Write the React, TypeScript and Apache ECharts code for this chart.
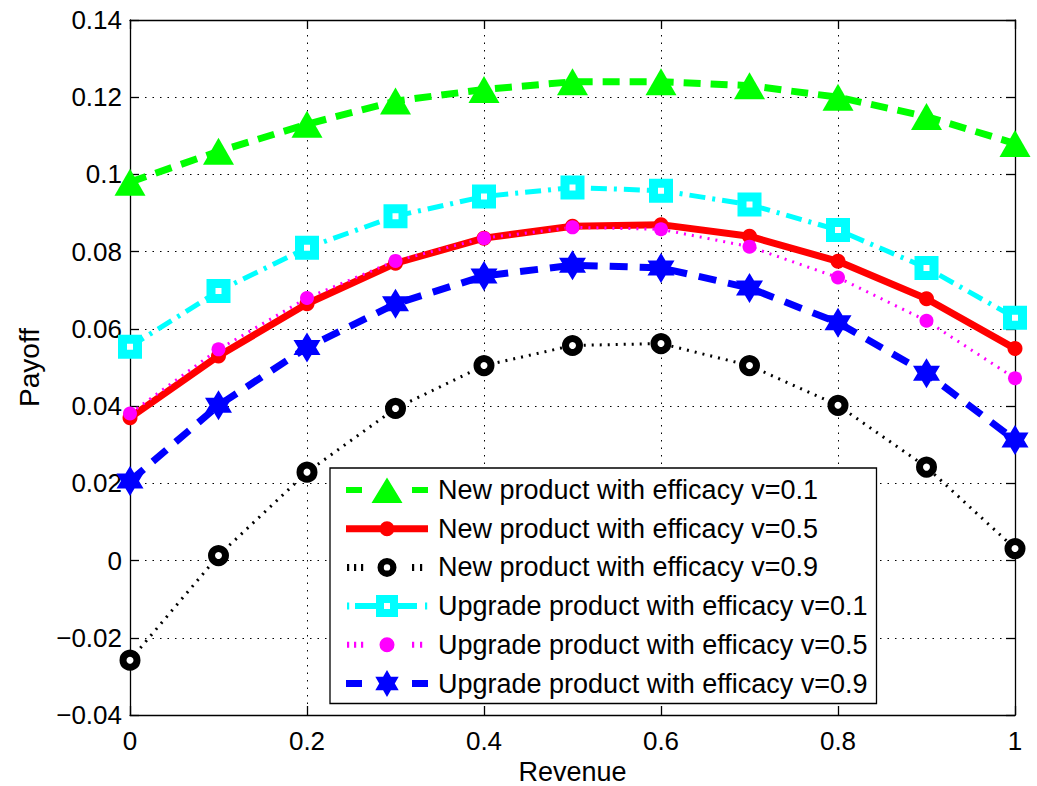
import React, { useEffect, useRef } from "react";
import * as echarts from "echarts";

const xValues = [0, 0.1, 0.2, 0.3, 0.4, 0.5, 0.6, 0.7, 0.8, 0.9, 1];
const newV01 = [0.098, 0.106, 0.113, 0.119, 0.122, 0.124, 0.124, 0.123, 0.120, 0.115, 0.108];
const newV05 = [0.037, 0.053, 0.0665, 0.077, 0.0835, 0.0866, 0.0870, 0.0840, 0.0775, 0.0678, 0.0549];
const newV09 = [-0.0258, 0.0013, 0.0229, 0.0394, 0.0505, 0.0557, 0.0562, 0.0505, 0.0402, 0.0242, 0.0031];
const upV01 = [0.0554, 0.0698, 0.081, 0.0892, 0.0943, 0.0966, 0.0958, 0.0922, 0.0856, 0.0758, 0.0629];
const upV05 = [0.0381, 0.0547, 0.068, 0.0776, 0.0835, 0.0863, 0.0858, 0.0813, 0.0733, 0.0621, 0.0472];
const upV09 = [0.0206, 0.0402, 0.0552, 0.0665, 0.0737, 0.0765, 0.0758, 0.0706, 0.0616, 0.0485, 0.0312];

const seriesNames = [
  "New product with efficacy v=0.1",
  "New product with efficacy v=0.5",
  "New product with efficacy v=0.9",
  "Upgrade product with efficacy v=0.1",
  "Upgrade product with efficacy v=0.5",
  "Upgrade product with efficacy v=0.9",
];

const FONT = "'Liberation Sans', Arial, Helvetica, sans-serif";
const HEX =
  "path://M0,-10L2.887,-5L8.66,-5L5.774,0L8.66,5L2.887,5L0,10L-2.887,5L-8.66,5L-5.774,0L-8.66,-5L-2.887,-5Z";

// legend icon helpers (82 x 28 box)
const IW = 82;
const IH = 28;
const anchors = `M0,0L0.01,0L0,0.01Z M${IW},${IH}L${IW - 0.01},${IH}L${IW},${IH - 0.01}Z `;
const rect = (x1: number, y1: number, x2: number, y2: number) =>
  `M${x1},${y1}L${x2},${y1}L${x2},${y2}L${x1},${y2}Z `;
const rectCCW = (x1: number, y1: number, x2: number, y2: number) =>
  `M${x1},${y1}L${x1},${y2}L${x2},${y2}L${x2},${y1}Z `;
const circ = (cx: number, cy: number, r: number, cw: boolean) => {
  const s = cw ? 1 : 0;
  return `M${cx - r},${cy}A${r},${r} 0 1,${s} ${cx + r},${cy}A${r},${r} 0 1,${s} ${cx - r},${cy}Z `;
};
const C = IH / 2;
const hexStar = (cx: number, cy: number, R: number) => {
  const r = R / Math.sqrt(3);
  const pts: string[] = [];
  for (let i = 0; i < 12; i++) {
    const ang = (-90 + i * 30) * (Math.PI / 180);
    const rad = i % 2 === 0 ? R : r;
    pts.push(`${(cx + rad * Math.cos(ang)).toFixed(2)},${(cy + rad * Math.sin(ang)).toFixed(2)}`);
  }
  return "M" + pts.join("L") + "Z ";
};
const bars = (xs: number[], h: number) => xs.map((x) => rect(x, C - h / 2, x + 2.2, C + h / 2)).join("");

const icons = [
  "path://" + anchors + rect(0, C - 3, 16, C + 3) + `M41,1.5L56.5,27L25.5,27Z ` + rect(66, C - 3, 82, C + 3),
  "path://" + anchors + rect(0, C - 3.5, 82, C + 3.5) + circ(41, C, 7.5, true),
  "path://" + anchors + bars([1, 8, 15, 66, 74], 7) + circ(41, C, 9.5, true) + circ(41, C, 3.2, false),
  "path://" + anchors + bars([1], 7) + rect(9, C - 3, 30, C + 3) + rect(30, C - 11, 52, C + 11) + rectCCW(38, C - 3, 44, C + 3) + rect(52, C - 3, 71, C + 3) + bars([79], 7),
  "path://" + anchors + bars([1, 8, 15, 66, 74], 6) + circ(41, C, 7.5, true),
  "path://" + anchors + rect(0, C - 3.5, 16, C + 3.5) + hexStar(41, C, 13.5) + rect(66, C - 3.5, 82, C + 3.5),
];
const iconColors = ["#00ff00", "#ff0000", "#000000", "#00ffff", "#ff00ff", "#0000ff"];

const pairs = (ys: number[]) => xValues.map((x, i) => [x, ys[i]]);

export default function App() {
  const ref = useRef<HTMLDivElement>(null);
  useEffect(() => {
    if (!ref.current) return;
    const chart = echarts.init(ref.current, undefined, { renderer: "svg" });
    const gridLine = { show: true, lineStyle: { color: "#000", width: 1, type: [1.5, 6] as any } };
    const axisLine = { show: true, onZero: false, lineStyle: { color: "#000", width: 1.3 } };
    const tick = { show: true, inside: true, length: 9, lineStyle: { color: "#000", width: 1.3 } };
    chart.setOption({
      animation: false,
      backgroundColor: "#fff",
      grid: { left: 130, right: 22, top: 20, bottom: 71, containLabel: false, outerBoundsMode: "none" },
      legend: {
        orient: "vertical",
        left: 330,
        top: 468,
        data: seriesNames.map((n, i) => ({
          name: n,
          icon: icons[i],
          itemStyle: { color: iconColors[i], borderWidth: 0, opacity: 1 },
        })),
        backgroundColor: "#fff",
        borderColor: "#000",
        borderWidth: 1.3,
        borderRadius: 0,
        padding: [8, 9, 6, 16],
        itemWidth: IW,
        itemHeight: IH,
        itemGap: 10.7,
        symbolKeepAspect: true,
        textStyle: { fontSize: 27, color: "#000", fontFamily: FONT, padding: [0, 0, 0, 5] },
        selectedMode: false,
      },
      xAxis: [
        {
          type: "value",
          min: 0,
          max: 1,
          interval: 0.2,
          axisLine,
          axisTick: tick,
          splitLine: gridLine,
          axisLabel: {
            color: "#000",
            fontSize: 26,
            fontFamily: FONT,
            margin: 13,
            formatter: (v: number) => String(Math.round(v * 10) / 10),
          },
          name: "Revenue",
          nameLocation: "middle",
          nameGap: 42,
          nameTextStyle: { color: "#000", fontSize: 27, fontFamily: FONT },
        },
        {
          type: "value",
          position: "top",
          min: 0,
          max: 1,
          interval: 0.2,
          axisLine,
          axisTick: tick,
          axisLabel: { show: false },
          splitLine: { show: false },
        },
      ],
      yAxis: [
        {
          type: "value",
          min: -0.04,
          max: 0.14,
          interval: 0.02,
          axisLine,
          axisTick: tick,
          splitLine: gridLine,
          axisLabel: {
            color: "#000",
            fontSize: 26,
            fontFamily: FONT,
            margin: 8,
            formatter: (v: number) => {
              const r = Math.round(v * 100) / 100;
              return String(r).replace("-", "\u2212");
            },
          },
          name: "Payoff",
          nameLocation: "middle",
          nameGap: 87,
          nameRotate: 90,
          nameTextStyle: { color: "#000", fontSize: 28, fontFamily: FONT },
        },
        {
          type: "value",
          position: "right",
          min: -0.04,
          max: 0.14,
          interval: 0.02,
          axisLine,
          axisTick: tick,
          axisLabel: { show: false },
          splitLine: { show: false },
        },
      ],
      series: [
        {
          name: seriesNames[0],
          type: "line",
          data: pairs(newV01),
          symbol: "triangle",
          symbolSize: [31, 27],
          itemStyle: { color: "#00ff00" },
          lineStyle: { color: "#00ff00", width: 7, type: [17, 10] as any },
        },
        {
          name: seriesNames[1],
          type: "line",
          data: pairs(newV05),
          symbol: "circle",
          symbolSize: 15,
          itemStyle: { color: "#ff0000" },
          lineStyle: { color: "#ff0000", width: 7, type: "solid" },
        },
        {
          name: seriesNames[2],
          type: "line",
          data: pairs(newV09),
          symbol: "circle",
          symbolSize: 14,
          itemStyle: { color: "#fff", borderColor: "#000", borderWidth: 7 },
          lineStyle: { color: "#000", width: 3, type: [2, 6] as any },
        },
        {
          name: seriesNames[3],
          type: "line",
          data: pairs(upV01),
          symbol: "rect",
          symbolSize: 15,
          itemStyle: { color: "#fff", borderColor: "#00ffff", borderWidth: 9 },
          lineStyle: { color: "#00ffff", width: 5, type: [16, 7, 3, 7] as any },
        },
        {
          name: seriesNames[4],
          type: "line",
          data: pairs(upV05),
          symbol: "circle",
          symbolSize: 14,
          itemStyle: { color: "#ff00ff" },
          lineStyle: { color: "#ff00ff", width: 3, type: [2, 6] as any },
        },
        {
          name: seriesNames[5],
          type: "line",
          data: pairs(upV09),
          symbol: HEX,
          symbolSize: [27, 30],
          itemStyle: { color: "#0000ff" },
          lineStyle: { color: "#0000ff", width: 7, type: [18, 12] as any },
        },
      ],
    });
    return () => chart.dispose();
  }, []);
  return (
    <div
      ref={ref}
      style={{ position: "fixed", left: 0, top: 0, width: 1037, height: 786 }}
    />
  );
}
